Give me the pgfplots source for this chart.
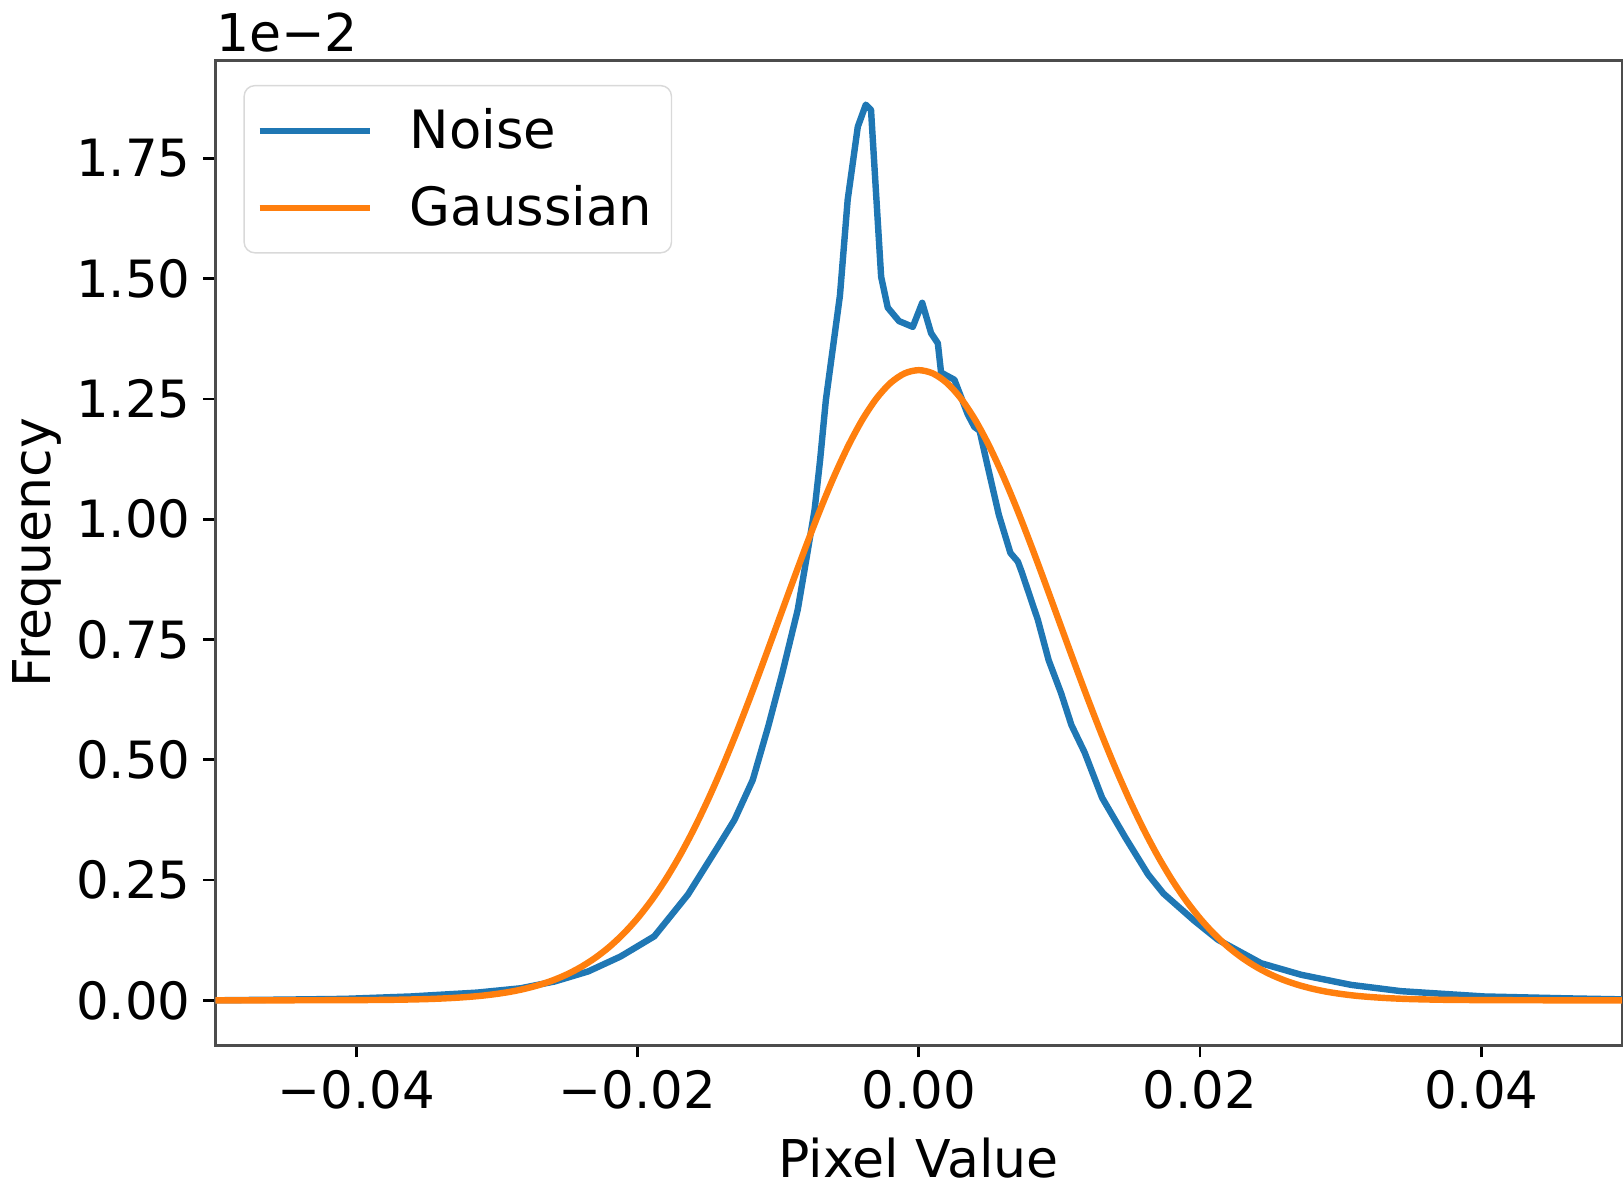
\documentclass[border=0pt]{standalone}
\usepackage{fontspec}
\setmainfont{DejaVu Sans}
\usepackage{pgfplots}
\pgfplotsset{compat=1.18}
\usetikzlibrary{calc}

\definecolor{tabblue}{HTML}{1F77B4}
\definecolor{taborange}{HTML}{FF7F0E}

\begin{document}
\begin{tikzpicture}
\begin{axis}[
    scale only axis,
    clip mode=individual,
    width=13.857cm, height=9.704cm,
    xmin=-0.05, xmax=0.05,
    ymin=-0.0931, ymax=1.9546,
    xtick={-0.04,-0.02,0,0.02,0.04},
    xticklabels={−0.04,−0.02,0.00,0.02,0.04},
    ytick={0,0.25,0.5,0.75,1,1.25,1.5,1.75},
    yticklabels={0.00,0.25,0.50,0.75,1.00,1.25,1.50,1.75},
    scaled ticks=false,
    tick align=outside,
    tick pos=left,
    major tick length=0.12cm,
    tick style={black, line width=0.8pt},
    axis line style={black!70, line width=0.8pt},
    tick label style={font=\fontsize{14.4}{17}\selectfont},
    xlabel={Pixel Value},
    ylabel={Frequency},
    every axis x label/.style={at={(axis description cs:0.5,-0.115)}, anchor=center,
        font=\fontsize{14.6}{17}\selectfont},
    every axis y label/.style={at={(axis description cs:-0.127,0.5)}, rotate=90, anchor=center,
        font=\fontsize{14.6}{17}\selectfont},
    legend style={at={(axis description cs:0.0199,0.9748)}, anchor=north west,
        draw=black!15, rounded corners=3pt, fill=white, fill opacity=0.8, text opacity=1,
        font=\fontsize{14.8}{17}\selectfont, inner xsep=0.12cm, inner ysep=0.15cm,
        row sep=0.17cm},
    legend cell align=left,
    legend image code/.code={\draw[#1] (0cm,0cm) -- (1.09cm,0cm); \path (1.38cm,0cm);},
]
\addplot[tabblue, line width=1.8pt, line join=round, sharp plot] coordinates {
(-0.0500,0.000) (-0.0450,0.0015) (-0.0408,0.003) (-0.0361,0.008) (-0.0314,0.016)
(-0.0283,0.025) (-0.0259,0.039) (-0.0235,0.060) (-0.0212,0.091) (-0.0188,0.133)
(-0.0164,0.220) (-0.0143,0.318) (-0.0131,0.375) (-0.0118,0.458) (-0.0107,0.569)
(-0.0097,0.680) (-0.0086,0.812) (-0.0080,0.915) (-0.0074,1.020) (-0.00701,1.123)
(-0.00660,1.248) (-0.00560,1.465) (-0.00505,1.664) (-0.00433,1.816) (-0.00376,1.862)
(-0.00339,1.851) (-0.00303,1.677) (-0.00267,1.504) (-0.00220,1.440) (-0.00140,1.412)
(-0.00042,1.400) (0.00025,1.450) (0.00088,1.387) (0.00136,1.366) (0.00159,1.305)
(0.00254,1.290) (0.00349,1.218) (0.00396,1.192) (0.00433,1.184) (0.00488,1.113)
(0.00570,1.009) (0.00652,0.930) (0.00705,0.912) (0.00733,0.890) (0.00847,0.791)
(0.00924,0.707) (0.01013,0.638) (0.01086,0.572) (0.01180,0.515) (0.01304,0.421)
(0.01470,0.338) (0.01630,0.262) (0.01740,0.222) (0.01961,0.165) (0.02127,0.126)
(0.02435,0.077) (0.02720,0.053) (0.03075,0.032) (0.0343,0.019) (0.0402,0.008)
(0.0462,0.004) (0.0500,0.002)
};
\addlegendentry{Noise}
\addplot[taborange, line width=1.8pt, smooth] coordinates {
(-0.050,0.0000) (-0.045,0.0000) (-0.040,0.0004) (-0.039,0.0006) (-0.038,0.0008)
(-0.037,0.0012) (-0.036,0.0018) (-0.035,0.0025) (-0.034,0.0036) (-0.033,0.0051)
(-0.032,0.0071) (-0.031,0.0097) (-0.030,0.0133) (-0.029,0.0179) (-0.028,0.0240)
(-0.027,0.0318) (-0.026,0.0416) (-0.025,0.0540) (-0.024,0.0694) (-0.023,0.0882)
(-0.022,0.1109) (-0.021,0.1381) (-0.020,0.1702) (-0.019,0.2077) (-0.018,0.2508)
(-0.017,0.2999) (-0.016,0.3549) (-0.015,0.4157) (-0.014,0.4820) (-0.013,0.5531)
(-0.012,0.6284) (-0.011,0.7067) (-0.010,0.7866) (-0.009,0.8666) (-0.008,0.9451)
(-0.007,1.0203) (-0.006,1.0902) (-0.005,1.1531) (-0.004,1.2073) (-0.003,1.2512)
(-0.002,1.2835) (-0.001,1.3033) (0.000,1.3100) (0.001,1.3033) (0.002,1.2835)
(0.003,1.2512) (0.004,1.2073) (0.005,1.1531) (0.006,1.0902) (0.007,1.0203)
(0.008,0.9451) (0.009,0.8666) (0.010,0.7866) (0.011,0.7067) (0.012,0.6284)
(0.013,0.5531) (0.014,0.4820) (0.015,0.4157) (0.016,0.3549) (0.017,0.2999)
(0.018,0.2508) (0.019,0.2077) (0.020,0.1702) (0.021,0.1381) (0.022,0.1109)
(0.023,0.0882) (0.024,0.0694) (0.025,0.0540) (0.026,0.0416) (0.027,0.0318)
(0.028,0.0240) (0.029,0.0179) (0.030,0.0133) (0.031,0.0097) (0.032,0.0071)
(0.033,0.0051) (0.034,0.0036) (0.035,0.0025) (0.036,0.0018) (0.037,0.0012)
(0.038,0.0008) (0.039,0.0006) (0.040,0.0004) (0.045,0.0000) (0.050,0.0000)
};
\addlegendentry{Gaussian}
\node[anchor=base west, inner sep=0pt, font=\fontsize{14.6}{17}\selectfont]
    at ([yshift=0.08cm]rel axis cs:0,1) {1e−2};
\coordinate (bl) at (rel axis cs:0,0);
\coordinate (tr) at (rel axis cs:1,1);
\end{axis}
\pgfresetboundingbox
\path[use as bounding box] ($(bl)+(-2.1224cm,-1.408cm)$) rectangle ($(tr)+(0.02cm,0.592cm)$);
\end{tikzpicture}
\end{document}
